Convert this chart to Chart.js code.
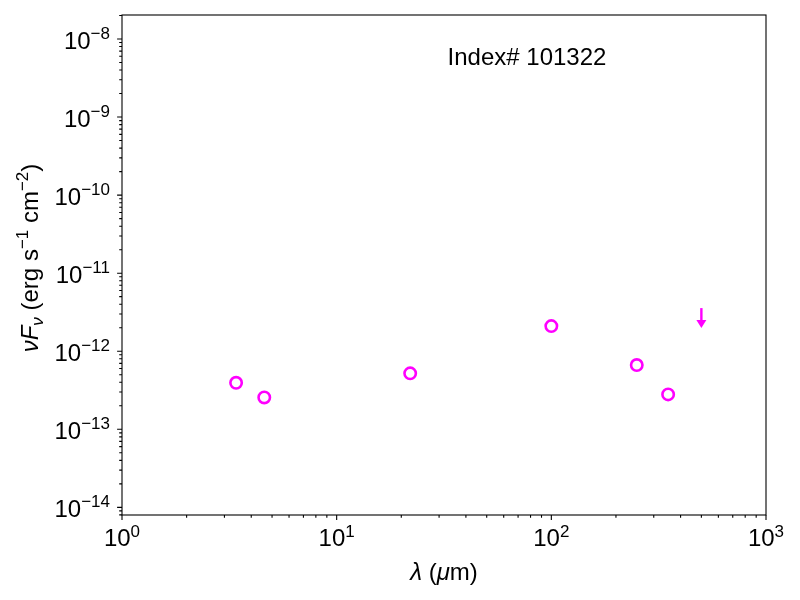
<!DOCTYPE html>
<html>
<head>
<meta charset="utf-8">
<script src="https://cdn.jsdelivr.net/npm/chart.js@4/dist/chart.umd.min.js"></script>
<style>
  body { margin: 0; background: #fff; }
  canvas { display: block; }
</style>
</head>
<body>
<canvas id="sedChart" width="800" height="600"></canvas>
<script>
// photometry points (wavelength in micron, nuFnu in erg/s/cm2)
const wavelengths = [3.4, 4.6, 22, 100, 250, 350];
const fluxes = [3.94e-13, 2.56e-13, 5.21e-13, 2.10e-12, 6.65e-13, 2.80e-13];

// upper limits
const limitWavelengths = [500];
const limitFluxes = [3.57e-12];

// axes
const xRange = [1, 1000];
const yRange = [7.98e-15, 2.03e-8];
const xTickExps = [0, 1, 2, 3];
const yTickExps = [-14, -13, -12, -11, -10, -9, -8];

const labelText = 'Index# 101322';
const FONT = '"Liberation Sans", Arial, Helvetica, sans-serif';
const MAGENTA = '#ff00ff';

function fontOf(p) {
  return (p.italic ? 'italic ' : '') + p.size + 'px ' + FONT;
}

// draw a run of text pieces (for superscripts / subscripts)
function drawParts(ctx, parts, x, y, align) {
  let total = 0;
  parts.forEach(p => {
    ctx.font = fontOf(p);
    p.w = ctx.measureText(p.t).width;
    total += p.w;
  });
  let cx = x;
  if (align === 'right') cx = x - total;
  if (align === 'center') cx = x - total / 2;
  ctx.textAlign = 'left';
  ctx.textBaseline = 'alphabetic';
  parts.forEach(p => {
    ctx.font = fontOf(p);
    ctx.fillText(p.t, cx, y + (p.dy || 0));
    cx += p.w;
  });
}

function expLabel(e) {
  const s = e < 0 ? '\u2212' + Math.abs(e) : String(e);
  return [{ t: '10', size: 24 }, { t: s, size: 17, dy: -10 }];
}

const axesPlugin = {
  id: 'mplAxes',
  afterDraw(chart) {
    const ctx = chart.ctx;
    const a = chart.chartArea;
    const xs = chart.scales.x;
    const ys = chart.scales.y;
    ctx.save();
    ctx.strokeStyle = '#000';
    ctx.fillStyle = '#000';
    ctx.lineWidth = 1.1;
    ctx.strokeRect(a.left, a.top, a.right - a.left, a.bottom - a.top);

    // x ticks
    ctx.beginPath();
    for (let k = 0; k < 3; k++) {
      for (let m = 1; m < 10; m++) {
        const v = m * Math.pow(10, k);
        const px = xs.getPixelForValue(v);
        const len = m === 1 ? 4.9 : 2.8;
        ctx.moveTo(px, a.bottom);
        ctx.lineTo(px, a.bottom + len);
      }
    }
    const pr = xs.getPixelForValue(1000);
    ctx.moveTo(pr, a.bottom);
    ctx.lineTo(pr, a.bottom + 4.9);

    // y ticks
    for (let k = -15; k <= -8; k++) {
      for (let m = 1; m < 10; m++) {
        const v = m * Math.pow(10, k);
        if (v < yRange[0] || v > yRange[1]) continue;
        const py = ys.getPixelForValue(v);
        const len = m === 1 ? 4.9 : 2.8;
        ctx.moveTo(a.left, py);
        ctx.lineTo(a.left - len, py);
      }
    }
    ctx.stroke();

    // tick labels
    xTickExps.forEach(e => {
      const px = xs.getPixelForValue(Math.pow(10, e));
      const parts = expLabel(e);
      parts[1].dy = -9;
      drawParts(ctx, parts, px, a.bottom + 31, 'center');
    });
    yTickExps.forEach(e => {
      const py = ys.getPixelForValue(Math.pow(10, e));
      drawParts(ctx, expLabel(e), a.left - 12, py + 10, 'right');
    });

    // axis titles
    const cxMid = (a.left + a.right) / 2;
    drawParts(ctx, [
      { t: '\u03bb', size: 24, italic: true },
      { t: ' (', size: 24 },
      { t: '\u03bc', size: 24, italic: true },
      { t: 'm)', size: 24 }
    ], cxMid, 580, 'center');

    ctx.save();
    ctx.translate(38, (a.top + a.bottom) / 2 - 7);
    ctx.rotate(-Math.PI / 2);
    drawParts(ctx, [
      { t: '\u03bd', size: 24, italic: true },
      { t: 'F', size: 24, italic: true },
      { t: '\u03bd', size: 17, italic: true, dy: 5 },
      { t: ' (erg s', size: 24 },
      { t: '\u22121', size: 17, dy: -10 },
      { t: ' cm', size: 24 },
      { t: '\u22122', size: 17, dy: -10 },
      { t: ')', size: 24 }
    ], 0, 0, 'center');
    ctx.restore();

    // annotation
    drawParts(ctx, [{ t: labelText, size: 24 }], 527, 65, 'center');
    ctx.restore();
  }
};

// down arrows for upper limits
const arrowPlugin = {
  id: 'upperLimits',
  afterDatasetsDraw(chart) {
    const ctx = chart.ctx;
    const meta = chart.getDatasetMeta(1);
    ctx.save();
    ctx.strokeStyle = MAGENTA;
    ctx.fillStyle = MAGENTA;
    ctx.lineWidth = 2.4;
    meta.data.forEach(pt => {
      const x = pt.x, y = pt.y;
      ctx.beginPath();
      ctx.moveTo(x, y);
      ctx.lineTo(x, y + 13);
      ctx.stroke();
      ctx.beginPath();
      ctx.moveTo(x - 5, y + 12);
      ctx.lineTo(x + 5, y + 12);
      ctx.lineTo(x, y + 20);
      ctx.closePath();
      ctx.fill();
    });
    ctx.restore();
  }
};

const ctxSed = document.getElementById('sedChart').getContext('2d');
const sedChart = new Chart(ctxSed, {
  type: 'scatter',
  data: {
    datasets: [{
      label: 'photometry',
      data: wavelengths.map((w, i) => ({ x: w, y: fluxes[i] })),
      pointStyle: 'circle',
      pointRadius: 5.7,
      borderWidth: 2.6,
      borderColor: MAGENTA,
      backgroundColor: 'rgba(0,0,0,0)'
    }, {
      label: 'upper limits',
      data: limitWavelengths.map((w, i) => ({ x: w, y: limitFluxes[i] })),
      pointRadius: 0,
      borderColor: MAGENTA,
      backgroundColor: MAGENTA
    }]
  },
  options: {
    responsive: false,
    animation: false,
    events: [],
    layout: { padding: { left: 122, right: 34, top: 15, bottom: 85 } },
    plugins: {
      legend: { display: false },
      tooltip: { enabled: false }
    },
    scales: {
      x: { type: 'logarithmic', min: xRange[0], max: xRange[1], display: false },
      y: { type: 'logarithmic', min: yRange[0], max: yRange[1], display: false }
    }
  },
  plugins: [axesPlugin, arrowPlugin]
});
</script>
</body>
</html>
